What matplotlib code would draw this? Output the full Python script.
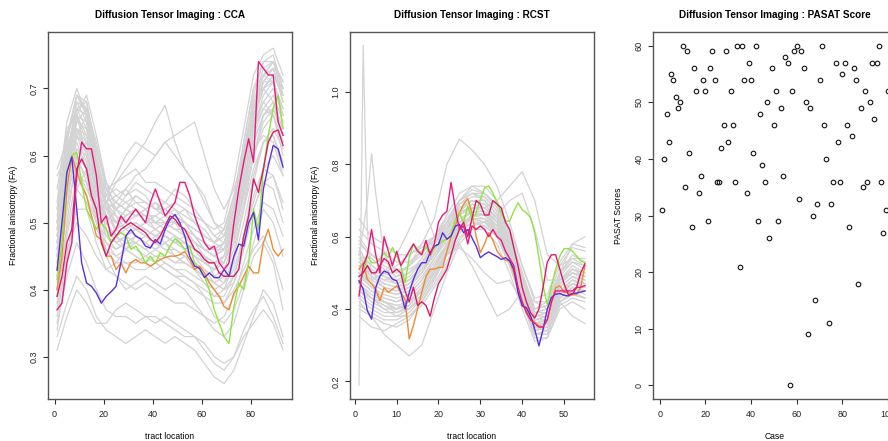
import numpy as np
import matplotlib.pyplot as plt

plt.rcParams['font.family'] = ['Liberation Sans', 'DejaVu Sans']

# ---------------- CCA tract ----------------
cca_grid = list(range(1, 94, 4))  # locations for the grey background curves
cca_gray = [
    [0.45,0.58,0.67,0.66,0.58,0.52,0.50,0.49,0.50,0.49,0.48,0.49,0.48,0.47,0.46,0.45,0.44,0.45,0.50,0.58,0.66,0.71,0.73,0.68],
    [0.50,0.62,0.69,0.68,0.60,0.54,0.52,0.51,0.52,0.50,0.51,0.50,0.49,0.49,0.47,0.46,0.45,0.47,0.52,0.60,0.69,0.74,0.75,0.70],
    [0.42,0.55,0.64,0.63,0.55,0.50,0.48,0.47,0.47,0.46,0.47,0.46,0.46,0.45,0.44,0.43,0.42,0.43,0.47,0.55,0.63,0.67,0.69,0.65],
    [0.55,0.64,0.66,0.62,0.56,0.53,0.54,0.55,0.53,0.52,0.53,0.51,0.52,0.50,0.49,0.48,0.47,0.48,0.53,0.62,0.70,0.72,0.71,0.66],
    [0.38,0.50,0.60,0.62,0.57,0.50,0.47,0.46,0.45,0.44,0.45,0.44,0.43,0.43,0.42,0.41,0.40,0.41,0.45,0.52,0.60,0.64,0.66,0.62],
    [0.46,0.60,0.68,0.65,0.56,0.51,0.49,0.50,0.51,0.52,0.50,0.50,0.51,0.50,0.48,0.46,0.45,0.44,0.48,0.56,0.64,0.68,0.70,0.66],
    [0.48,0.61,0.66,0.60,0.53,0.50,0.52,0.54,0.56,0.55,0.54,0.53,0.52,0.51,0.50,0.49,0.47,0.46,0.49,0.54,0.60,0.66,0.68,0.64],
    [0.40,0.52,0.63,0.66,0.60,0.53,0.48,0.46,0.48,0.47,0.46,0.47,0.45,0.44,0.43,0.42,0.41,0.40,0.44,0.50,0.57,0.62,0.63,0.58],
    [0.52,0.63,0.67,0.64,0.58,0.55,0.56,0.57,0.58,0.56,0.56,0.55,0.54,0.53,0.52,0.50,0.49,0.50,0.56,0.64,0.72,0.75,0.76,0.72],
    [0.44,0.56,0.62,0.58,0.50,0.46,0.44,0.44,0.43,0.43,0.44,0.43,0.42,0.42,0.41,0.40,0.39,0.40,0.42,0.47,0.54,0.58,0.60,0.57],
    [0.36,0.45,0.52,0.52,0.47,0.43,0.42,0.41,0.40,0.41,0.40,0.39,0.38,0.38,0.37,0.36,0.35,0.36,0.39,0.44,0.49,0.53,0.52,0.48],
    [0.47,0.57,0.60,0.58,0.54,0.52,0.53,0.55,0.57,0.58,0.60,0.62,0.60,0.58,0.56,0.54,0.50,0.48,0.52,0.58,0.64,0.67,0.66,0.62],
    [0.50,0.58,0.60,0.56,0.52,0.53,0.56,0.58,0.60,0.62,0.65,0.675,0.62,0.58,0.56,0.53,0.50,0.49,0.53,0.60,0.66,0.70,0.68,0.63],
    [0.48,0.55,0.58,0.55,0.52,0.54,0.57,0.60,0.62,0.61,0.60,0.62,0.63,0.64,0.65,0.60,0.55,0.52,0.55,0.60,0.65,0.68,0.66,0.60],
    [0.33,0.38,0.42,0.40,0.36,0.34,0.33,0.32,0.33,0.34,0.33,0.32,0.33,0.32,0.31,0.29,0.27,0.26,0.28,0.32,0.36,0.40,0.38,0.33],
    [0.35,0.42,0.47,0.44,0.40,0.37,0.36,0.36,0.35,0.36,0.36,0.35,0.34,0.33,0.33,0.31,0.29,0.28,0.30,0.34,0.37,0.39,0.36,0.32],
    [0.31,0.36,0.40,0.38,0.35,0.35,0.37,0.38,0.37,0.36,0.35,0.36,0.35,0.34,0.33,0.32,0.30,0.29,0.30,0.33,0.35,0.37,0.35,0.31],
    [0.58,0.62,0.64,0.60,0.55,0.51,0.50,0.52,0.54,0.53,0.52,0.53,0.55,0.54,0.52,0.50,0.48,0.47,0.50,0.57,0.65,0.70,0.72,0.70],
    [0.43,0.54,0.61,0.60,0.55,0.49,0.47,0.48,0.49,0.50,0.49,0.48,0.47,0.46,0.45,0.43,0.41,0.40,0.41,0.46,0.52,0.56,0.55,0.50],
    [0.45,0.59,0.65,0.67,0.62,0.55,0.51,0.49,0.48,0.47,0.48,0.49,0.48,0.46,0.45,0.44,0.43,0.44,0.49,0.57,0.66,0.70,0.72,0.69],
    [0.40,0.48,0.55,0.53,0.49,0.47,0.46,0.47,0.48,0.47,0.46,0.45,0.44,0.45,0.44,0.42,0.40,0.38,0.40,0.43,0.46,0.48,0.45,0.40],
    [0.51,0.60,0.64,0.62,0.58,0.55,0.53,0.52,0.51,0.52,0.53,0.52,0.51,0.52,0.51,0.50,0.48,0.49,0.54,0.61,0.68,0.72,0.74,0.71],
    [0.47,0.58,0.63,0.59,0.52,0.48,0.46,0.47,0.46,0.45,0.46,0.47,0.46,0.45,0.43,0.42,0.43,0.45,0.50,0.55,0.61,0.63,0.62,0.57],
    [0.34,0.44,0.55,0.58,0.52,0.45,0.42,0.40,0.41,0.42,0.41,0.40,0.41,0.40,0.38,0.36,0.34,0.33,0.35,0.40,0.45,0.47,0.44,0.37],
    [0.53,0.65,0.70,0.66,0.59,0.53,0.51,0.50,0.49,0.50,0.50,0.51,0.50,0.48,0.47,0.46,0.46,0.47,0.51,0.59,0.67,0.71,0.71,0.67],
    [0.44,0.57,0.66,0.69,0.63,0.56,0.52,0.50,0.49,0.48,0.47,0.48,0.47,0.47,0.46,0.45,0.44,0.45,0.48,0.54,0.62,0.66,0.67,0.63],
    [0.57,0.60,0.58,0.54,0.50,0.48,0.49,0.51,0.52,0.51,0.49,0.48,0.47,0.48,0.47,0.45,0.42,0.41,0.43,0.48,0.53,0.58,0.57,0.52],
    [0.41,0.52,0.59,0.57,0.51,0.47,0.45,0.46,0.47,0.48,0.47,0.46,0.45,0.44,0.43,0.41,0.39,0.39,0.42,0.48,0.56,0.62,0.64,0.61],
    [0.49,0.62,0.69,0.67,0.61,0.56,0.54,0.53,0.54,0.53,0.52,0.52,0.53,0.52,0.50,0.48,0.47,0.48,0.52,0.60,0.68,0.73,0.74,0.71],
    [0.37,0.46,0.50,0.48,0.45,0.43,0.44,0.46,0.45,0.44,0.43,0.44,0.43,0.42,0.41,0.39,0.36,0.35,0.37,0.41,0.47,0.52,0.50,0.45],
    [0.48,0.60,0.68,0.67,0.59,0.53,0.50,0.51,0.52,0.51,0.50,0.49,0.50,0.49,0.48,0.47,0.46,0.47,0.52,0.59,0.67,0.72,0.74,0.69],
    [0.46,0.57,0.65,0.64,0.57,0.52,0.51,0.50,0.49,0.48,0.49,0.50,0.49,0.48,0.46,0.44,0.43,0.44,0.48,0.56,0.64,0.69,0.71,0.67],
    [0.52,0.61,0.66,0.63,0.57,0.54,0.55,0.54,0.55,0.54,0.52,0.52,0.51,0.50,0.48,0.47,0.46,0.46,0.50,0.57,0.65,0.71,0.73,0.69],
    [0.43,0.55,0.63,0.61,0.54,0.49,0.48,0.49,0.50,0.49,0.48,0.48,0.47,0.47,0.45,0.44,0.44,0.45,0.49,0.56,0.62,0.66,0.68,0.64],
    [0.49,0.59,0.64,0.61,0.55,0.51,0.50,0.52,0.53,0.53,0.52,0.51,0.50,0.50,0.48,0.46,0.45,0.46,0.51,0.58,0.66,0.70,0.71,0.66],
    [0.45,0.58,0.66,0.65,0.58,0.52,0.49,0.48,0.49,0.49,0.48,0.47,0.48,0.47,0.46,0.45,0.44,0.44,0.47,0.53,0.60,0.65,0.67,0.63],
    [0.50,0.63,0.69,0.66,0.58,0.53,0.52,0.53,0.52,0.51,0.51,0.52,0.51,0.50,0.49,0.48,0.47,0.49,0.54,0.62,0.70,0.74,0.74,0.70],
    [0.42,0.54,0.61,0.59,0.53,0.48,0.47,0.48,0.47,0.46,0.45,0.45,0.44,0.44,0.43,0.42,0.41,0.42,0.46,0.52,0.58,0.62,0.63,0.59],
    [0.47,0.59,0.67,0.68,0.61,0.55,0.53,0.52,0.51,0.51,0.50,0.50,0.50,0.49,0.47,0.46,0.45,0.46,0.50,0.58,0.67,0.72,0.73,0.68],
    [0.39,0.49,0.57,0.56,0.50,0.46,0.45,0.44,0.44,0.45,0.44,0.43,0.42,0.41,0.40,0.39,0.38,0.38,0.41,0.46,0.52,0.56,0.57,0.53],
]

cca_t = list(range(1, 94, 2))  # locations for the highlighted cases
cca_orange = [0.40,0.45,0.55,0.60,0.575,0.555,0.54,0.51,0.48,0.475,0.45,0.45,0.43,0.44,0.425,0.44,0.445,0.44,0.44,0.435,0.44,0.445,0.448,0.45,0.45,0.452,0.457,0.445,0.43,0.435,0.425,0.41,0.40,0.39,0.375,0.37,0.395,0.405,0.42,0.435,0.425,0.425,0.47,0.49,0.46,0.45,0.46]
cca_green = [0.415,0.47,0.575,0.60,0.605,0.56,0.52,0.505,0.49,0.50,0.49,0.47,0.48,0.485,0.48,0.46,0.465,0.455,0.44,0.45,0.44,0.455,0.45,0.465,0.476,0.47,0.46,0.465,0.44,0.43,0.42,0.40,0.37,0.35,0.33,0.32,0.375,0.41,0.40,0.44,0.52,0.49,0.58,0.63,0.67,0.69,0.64]
cca_blue = [0.429,0.50,0.575,0.598,0.52,0.44,0.41,0.405,0.395,0.38,0.39,0.397,0.405,0.44,0.48,0.49,0.48,0.476,0.465,0.462,0.475,0.468,0.49,0.505,0.512,0.50,0.48,0.45,0.435,0.432,0.418,0.425,0.418,0.418,0.43,0.42,0.45,0.468,0.465,0.50,0.515,0.474,0.55,0.585,0.615,0.61,0.583]
cca_pink2 = [0.39,0.42,0.47,0.49,0.58,0.595,0.58,0.54,0.52,0.47,0.45,0.47,0.48,0.49,0.495,0.50,0.495,0.49,0.485,0.475,0.47,0.48,0.495,0.51,0.505,0.495,0.49,0.475,0.46,0.455,0.445,0.44,0.44,0.425,0.42,0.42,0.42,0.43,0.48,0.51,0.565,0.545,0.58,0.62,0.635,0.638,0.615]
cca_pink1 = [0.37,0.38,0.44,0.47,0.57,0.62,0.61,0.61,0.57,0.50,0.51,0.48,0.49,0.51,0.50,0.51,0.52,0.51,0.50,0.53,0.55,0.53,0.51,0.52,0.53,0.56,0.56,0.54,0.51,0.49,0.47,0.46,0.465,0.44,0.43,0.44,0.50,0.55,0.59,0.625,0.59,0.74,0.73,0.72,0.72,0.65,0.63]

# ---------------- RCST tract ----------------
rcst_grid = list(range(1, 56, 3))
rcst_gray = [
    [0.52,0.48,0.46,0.45,0.46,0.50,0.55,0.60,0.66,0.68,0.67,0.63,0.55,0.45,0.36,0.37,0.45,0.48,0.47],
    [0.55,0.52,0.50,0.48,0.50,0.53,0.58,0.63,0.70,0.72,0.70,0.66,0.58,0.47,0.38,0.39,0.48,0.52,0.50],
    [0.45,0.42,0.40,0.40,0.42,0.46,0.50,0.56,0.62,0.64,0.63,0.60,0.52,0.42,0.33,0.34,0.43,0.46,0.44],
    [0.60,0.55,0.52,0.50,0.52,0.55,0.60,0.66,0.72,0.74,0.72,0.68,0.60,0.50,0.40,0.41,0.50,0.55,0.53],
    [0.40,0.38,0.36,0.35,0.37,0.42,0.47,0.53,0.60,0.62,0.62,0.58,0.50,0.40,0.31,0.32,0.41,0.43,0.42],
    [0.50,0.46,0.44,0.43,0.44,0.48,0.53,0.58,0.64,0.67,0.66,0.62,0.53,0.43,0.34,0.35,0.44,0.47,0.45],
    [0.58,0.55,0.53,0.51,0.51,0.53,0.56,0.62,0.68,0.70,0.69,0.65,0.57,0.48,0.39,0.40,0.49,0.53,0.51],
    [0.47,0.44,0.42,0.41,0.40,0.43,0.49,0.55,0.62,0.66,0.66,0.63,0.56,0.46,0.36,0.36,0.44,0.47,0.46],
    [0.52,0.50,0.48,0.49,0.52,0.58,0.65,0.80,0.87,0.84,0.80,0.74,0.64,0.52,0.42,0.42,0.50,0.53,0.52],
    [0.55,0.50,0.48,0.47,0.49,0.53,0.58,0.63,0.67,0.68,0.68,0.70,0.74,0.78,0.70,0.55,0.52,0.54,0.54],
    [0.50,0.47,0.45,0.44,0.46,0.50,0.55,0.60,0.64,0.65,0.64,0.66,0.70,0.72,0.62,0.48,0.48,0.50,0.49],
    [0.48,0.45,0.42,0.40,0.42,0.45,0.48,0.55,0.58,0.52,0.45,0.38,0.40,0.45,0.42,0.40,0.45,0.47,0.46],
    [0.45,0.43,0.40,0.38,0.40,0.44,0.50,0.55,0.57,0.54,0.50,0.47,0.48,0.42,0.36,0.37,0.44,0.46,0.45],
    [0.42,0.38,0.33,0.30,0.27,0.30,0.40,0.50,0.58,0.62,0.63,0.60,0.53,0.43,0.33,0.33,0.42,0.44,0.43],
    [0.65,0.60,0.58,0.55,0.55,0.57,0.60,0.65,0.70,0.73,0.72,0.68,0.60,0.50,0.40,0.42,0.52,0.57,0.56],
    [0.53,0.50,0.50,0.52,0.55,0.58,0.60,0.62,0.66,0.69,0.68,0.64,0.56,0.46,0.37,0.38,0.47,0.50,0.48],
    [0.43,0.40,0.38,0.38,0.38,0.41,0.46,0.52,0.59,0.63,0.64,0.62,0.55,0.45,0.35,0.35,0.42,0.45,0.43],
    [0.57,0.50,0.47,0.46,0.48,0.52,0.58,0.64,0.69,0.71,0.71,0.67,0.59,0.49,0.39,0.40,0.50,0.58,0.60],
    [0.48,0.45,0.43,0.42,0.43,0.47,0.52,0.57,0.63,0.65,0.65,0.61,0.54,0.44,0.35,0.36,0.42,0.38,0.36],
    [0.62,0.58,0.56,0.53,0.53,0.56,0.59,0.64,0.70,0.74,0.74,0.70,0.62,0.52,0.43,0.44,0.53,0.58,0.57],
    [0.38,0.35,0.34,0.36,0.38,0.42,0.48,0.56,0.63,0.66,0.65,0.61,0.53,0.42,0.32,0.32,0.40,0.42,0.40],
    [0.50,0.48,0.50,0.55,0.62,0.70,0.60,0.58,0.62,0.66,0.66,0.63,0.55,0.45,0.36,0.37,0.46,0.49,0.47],
    [0.46,0.43,0.41,0.40,0.41,0.45,0.51,0.57,0.64,0.68,0.68,0.65,0.57,0.47,0.37,0.37,0.45,0.48,0.47],
    [0.54,0.51,0.49,0.48,0.48,0.51,0.55,0.61,0.67,0.70,0.70,0.66,0.58,0.48,0.38,0.38,0.47,0.51,0.50],
    [0.51,0.47,0.45,0.44,0.45,0.49,0.54,0.59,0.65,0.67,0.66,0.62,0.54,0.44,0.35,0.36,0.45,0.48,0.46],
    [0.56,0.52,0.49,0.47,0.48,0.52,0.57,0.62,0.68,0.70,0.69,0.65,0.57,0.47,0.38,0.39,0.48,0.51,0.49],
    [0.44,0.41,0.39,0.39,0.41,0.45,0.51,0.57,0.63,0.66,0.66,0.63,0.55,0.45,0.35,0.34,0.43,0.46,0.45],
    [0.49,0.46,0.43,0.42,0.44,0.48,0.54,0.60,0.66,0.69,0.68,0.64,0.56,0.46,0.36,0.37,0.46,0.49,0.48],
    [0.53,0.49,0.47,0.46,0.47,0.50,0.56,0.61,0.67,0.70,0.70,0.66,0.58,0.48,0.37,0.38,0.47,0.50,0.49],
    [0.47,0.43,0.41,0.39,0.40,0.44,0.50,0.56,0.62,0.65,0.65,0.62,0.54,0.44,0.34,0.35,0.44,0.47,0.46],
    [0.59,0.54,0.51,0.49,0.50,0.54,0.59,0.64,0.70,0.72,0.71,0.67,0.59,0.49,0.40,0.41,0.50,0.54,0.52],
    [0.41,0.39,0.37,0.37,0.39,0.43,0.49,0.55,0.61,0.64,0.64,0.61,0.53,0.43,0.33,0.33,0.42,0.44,0.43],
    [0.52,0.49,0.46,0.45,0.47,0.51,0.56,0.62,0.69,0.72,0.72,0.69,0.61,0.50,0.39,0.39,0.48,0.51,0.50],
    [0.45,0.43,0.42,0.41,0.42,0.46,0.52,0.58,0.64,0.67,0.67,0.64,0.57,0.47,0.36,0.36,0.45,0.47,0.46],
]
# two grey cases with a spike near the start of the tract
rcst_spike_t = [1,2,3,4,5,7,10,13,16,19,22,25,28,31,34,37,40,43,46,49,52,55]
rcst_spike1 = [0.19,1.13,0.62,0.48,0.44,0.42,0.40,0.41,0.46,0.52,0.58,0.63,0.65,0.64,0.60,0.52,0.42,0.33,0.34,0.43,0.46,0.45]
rcst_spike2 = [0.55,0.62,0.70,0.83,0.72,0.55,0.50,0.52,0.56,0.60,0.64,0.68,0.70,0.69,0.65,0.57,0.46,0.37,0.38,0.47,0.50,0.49]

rcst_t = list(range(1, 56))
rcst_orange = [0.51,0.528,0.482,0.469,0.455,0.423,0.459,0.446,0.455,0.464,0.446,0.427,0.317,0.354,0.40,0.446,0.49,0.51,0.51,0.515,0.515,0.56,0.60,0.63,0.665,0.69,0.705,0.665,0.60,0.556,0.58,0.611,0.59,0.56,0.545,0.535,0.533,0.50,0.45,0.41,0.395,0.377,0.363,0.354,0.35,0.372,0.418,0.459,0.464,0.446,0.446,0.44,0.44,0.46,0.52]
rcst_green = [0.473,0.50,0.547,0.528,0.528,0.537,0.556,0.542,0.57,0.547,0.519,0.473,0.542,0.579,0.565,0.551,0.574,0.547,0.57,0.579,0.588,0.593,0.606,0.648,0.666,0.639,0.685,0.648,0.666,0.703,0.735,0.74,0.721,0.694,0.666,0.643,0.643,0.671,0.694,0.675,0.666,0.652,0.611,0.542,0.464,0.413,0.464,0.51,0.547,0.567,0.567,0.56,0.547,0.533,0.528]
rcst_blue = [0.478,0.455,0.395,0.372,0.459,0.491,0.505,0.50,0.482,0.478,0.446,0.40,0.446,0.482,0.51,0.528,0.528,0.556,0.574,0.579,0.611,0.593,0.602,0.629,0.634,0.611,0.62,0.597,0.574,0.542,0.551,0.558,0.551,0.545,0.537,0.542,0.533,0.51,0.446,0.409,0.404,0.381,0.344,0.298,0.344,0.40,0.432,0.441,0.443,0.438,0.436,0.443,0.444,0.447,0.45]
rcst_pink2 = [0.49,0.50,0.52,0.50,0.50,0.52,0.54,0.53,0.50,0.51,0.50,0.45,0.42,0.46,0.41,0.42,0.41,0.38,0.43,0.47,0.49,0.51,0.55,0.59,0.62,0.64,0.60,0.65,0.70,0.69,0.66,0.66,0.70,0.69,0.68,0.64,0.62,0.57,0.52,0.46,0.42,0.39,0.375,0.40,0.46,0.53,0.55,0.55,0.51,0.47,0.44,0.44,0.46,0.50,0.525]
rcst_pink1 = [0.436,0.52,0.55,0.62,0.55,0.50,0.60,0.56,0.52,0.56,0.52,0.54,0.56,0.58,0.56,0.55,0.59,0.55,0.58,0.64,0.66,0.67,0.75,0.68,0.62,0.63,0.58,0.63,0.62,0.63,0.62,0.60,0.62,0.60,0.59,0.56,0.54,0.52,0.46,0.42,0.39,0.37,0.36,0.35,0.35,0.37,0.42,0.45,0.45,0.45,0.45,0.45,0.46,0.46,0.465]

# ---------------- PASAT ----------------
pasat = [31,40,48,43,55,54,51,49,50,60,35,59,41,28,56,52,34,37,54,52,
         29,56,59,54,36,36,42,46,59,43,52,46,36,60,21,60,54,34,57,54,
         41,60,29,48,39,36,50,26,56,46,52,29,49,37,58,57,0,52,59,60,
         33,59,56,50,9,49,30,15,32,54,60,46,40,11,32,36,57,43,36,55,
         57,46,28,44,56,54,18,49,35,52,36,50,57,47,57,60,36,27,31,52]
case = list(range(1, len(pasat) + 1))

gray = '#d3d3d3'
c_orange = '#ee8a33'
c_green = '#8ee53f'
c_blue = '#5a2ee0'
c_pink2 = '#d81b6a'
c_pink1 = '#e8197f'


def style(ax):
    for s in ax.spines.values():
        s.set_color('#555555')
        s.set_linewidth(1.0)
    ax.tick_params(direction='out', length=3.5, width=0.8, colors='#333333',
                   labelsize=6.5, labelcolor='#222222')
    ax.tick_params(axis='x', pad=4.5)
    ax.tick_params(axis='y', pad=3.5)
    plt.setp(ax.get_yticklabels(), rotation=90, va='center')


fig = plt.figure(figsize=(8.88, 4.41), dpi=100)
W, B, H = 0.2748, 0.0952, 0.832
ax1 = fig.add_axes([0.0541, B, W, H])
ax2 = fig.add_axes([0.3941, B, W, H])
ax3 = fig.add_axes([0.7354, B, W, H])

# CCA
for g in cca_gray:
    ax1.plot(cca_grid, g, color=gray, lw=0.9)
for vals, col in [(cca_orange, c_orange), (cca_green, c_green), (cca_blue, c_blue),
                  (cca_pink2, c_pink2), (cca_pink1, c_pink1)]:
    ax1.plot(cca_t, vals, color=col, lw=1.0)
ax1.set_xlim(-2.68, 96.68)
ax1.set_ylim(0.237, 0.784)
ax1.set_xticks([0, 20, 40, 60, 80])
ax1.set_yticks([0.3, 0.4, 0.5, 0.6, 0.7])
ax1.set_title('Diffusion Tensor Imaging : CCA', fontsize=7.2, fontweight='bold', pad=10)
ax1.set_xlabel('tract location', fontsize=6.2, labelpad=9)
ax1.set_ylabel('Fractional anisotropy (FA)', fontsize=6.2, labelpad=8)
style(ax1)

# RCST
for g in rcst_gray:
    ax2.plot(rcst_grid, g, color=gray, lw=0.9)
ax2.plot(rcst_spike_t, rcst_spike1, color=gray, lw=0.9)
ax2.plot(rcst_spike_t, rcst_spike2, color=gray, lw=0.9)
for vals, col in [(rcst_orange, c_orange), (rcst_green, c_green), (rcst_blue, c_blue),
                  (rcst_pink2, c_pink2), (rcst_pink1, c_pink1)]:
    ax2.plot(rcst_t, vals, color=col, lw=1.0)
ax2.set_xlim(-1.16, 57.16)
ax2.set_ylim(0.151, 1.166)
ax2.set_xticks([0, 10, 20, 30, 40, 50])
ax2.set_yticks([0.2, 0.4, 0.6, 0.8, 1.0])
ax2.set_title('Diffusion Tensor Imaging : RCST', fontsize=7.2, fontweight='bold', pad=10)
ax2.set_xlabel('tract location', fontsize=6.2, labelpad=9)
ax2.set_ylabel('Fractional anisotropy (FA)', fontsize=6.2, labelpad=8)
style(ax2)

# PASAT
ax3.plot(case, pasat, 'o', mfc='none', mec='#111111', ms=3.3, mew=0.8)
ax3.set_xlim(-2.96, 103.96)
ax3.set_ylim(-2.4, 62.4)
ax3.set_xticks([0, 20, 40, 60, 80, 100])
ax3.set_yticks([0, 10, 20, 30, 40, 50, 60])
ax3.set_title('Diffusion Tensor Imaging : PASAT Score', fontsize=7.2, fontweight='bold', pad=10)
ax3.set_xlabel('Case', fontsize=6.2, labelpad=9)
ax3.set_ylabel('PASAT Scores', fontsize=6.2, labelpad=8)
style(ax3)

fig.savefig('out.png', dpi=100)
